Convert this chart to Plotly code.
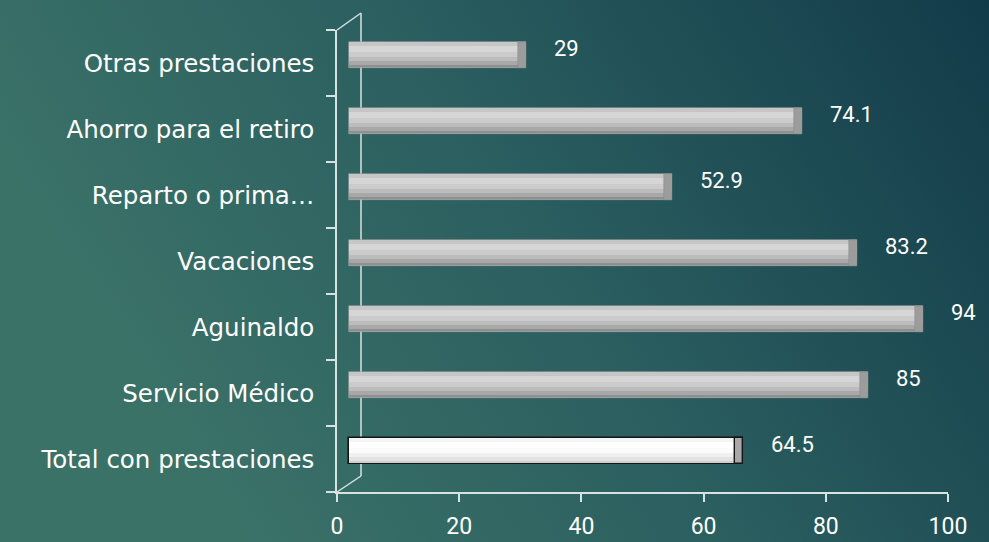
import base64
import plotly.graph_objects as go

# ---- data (top to bottom as in the chart) ----
categories = ["Otras prestaciones", "Ahorro para el retiro", "Reparto o prima…",
              "Vacaciones", "Aguinaldo", "Servicio Médico", "Total con prestaciones"]
values = [29, 74.1, 52.9, 83.2, 94, 85, 64.5]
value_labels = ["29", "74.1", "52.9", "83.2", "94", "85", "64.5"]
x_ticks = [0, 20, 40, 60, 80, 100]

# plotly category axes go bottom->top, so reverse
cats = categories[::-1]
vals = values[::-1]
labs = value_labels[::-1]
highlight = "Total con prestaciones"

W, H = 989, 542
ML, MR, MT, MB = 337, 41, 30, 50
PW, PH = W - ML - MR, H - MT - MB
DX, DY = 24, 16  # 3D depth offset in px

# background gradient
svg = f'''<svg xmlns="http://www.w3.org/2000/svg" width="{W}" height="{H}" preserveAspectRatio="none">
<defs><linearGradient id="g" x1="0" y1="0.35" x2="1" y2="0">
<stop offset="0" stop-color="#3b7268"/><stop offset="0.45" stop-color="#2b5f60"/>
<stop offset="1" stop-color="#123b49"/></linearGradient></defs>
<rect width="{W}" height="{H}" fill="url(#g)"/></svg>'''
bg = "data:image/svg+xml;base64," + base64.b64encode(svg.encode()).decode()

is_hl = [c == highlight for c in cats]

fig = go.Figure()
# invisible trace to establish category axis for labels
fig.add_trace(go.Scatter(x=vals, y=cats, mode="markers", marker=dict(opacity=0),
                         hoverinfo="skip", showlegend=False, xaxis="x", yaxis="y"))

BW = 0.40
common = dict(orientation="h", xaxis="x2", yaxis="y2", hoverinfo="skip", showlegend=False)

# outline/base body
fig.add_trace(go.Bar(x=vals, y=cats, width=BW, offset=-BW / 2,
                     marker=dict(color=["#f6f6f6" if h else "#b8b8b8" for h in is_hl],
                                 line=dict(color=["#151515" if h else "#9a9a9a" for h in is_hl],
                                           width=[1.6 if h else 0.6 for h in is_hl])),
                     **common))
# cylinder shading bands: (lower offset frac, upper offset frac, gray color, white color)
bands = [
    (0.36, 0.48, "#c6c6c6", "#f4f4f4"),
    (0.12, 0.36, "#d6d6d6", "#ffffff"),
    (-0.08, 0.12, "#cbcbcb", "#fbfbfb"),
    (-0.24, -0.08, "#bcbcbc", "#f0f0f0"),
    (-0.36, -0.24, "#a8a8a8", "#e2e2e2"),
    (-0.44, -0.36, "#8f8f8f", "#cfcfcf"),
]
for lo, hi, gc, wc in bands:
    fig.add_trace(go.Bar(x=vals, y=cats, width=(hi - lo) * BW, offset=lo * BW,
                         marker=dict(color=[wc if h else gc for h in is_hl], line=dict(width=0)),
                         **common))
# end cap
cap_len = [1.3] * len(vals)
fig.add_trace(go.Bar(x=cap_len, y=cats, base=[v - c for v, c in zip(vals, cap_len)],
                     width=BW * 0.96, offset=-BW * 0.48,
                     marker=dict(color=["#a9a9a9" if h else "#9c9c9c" for h in is_hl],
                                 line=dict(color=["#151515" if h else "#8a8a8a" for h in is_hl],
                                           width=[1.4 if h else 0.5 for h in is_hl])),
                     **common))

# value labels
for c, v, t in zip(cats, vals, labs):
    fig.add_annotation(x=v, y=c, xref="x2", yref="y2", text=t, showarrow=False,
                       xanchor="left", yanchor="middle", xshift=26, yshift=7,
                       font=dict(size=22, color="white", family="Roboto"))

axcol = "#d8e2e2"
# 3D wall lines (decoration in paper coords)
dxp, dyp = DX / PW, DY / PH
top_y = 1 + 17 / PH
for x0, y0, x1, y1 in [(0, 1, dxp, top_y), (dxp, top_y, dxp, dyp), (0, 0, dxp, dyp)]:
    fig.add_shape(type="line", xref="paper", yref="paper", x0=x0, y0=y0, x1=x1, y1=y1,
                  line=dict(color=axcol, width=1.5), layer="below")

xshift_units = (DX / 2) / (PW / 100)
yshift_units = (DY / 2) / (PH / 7)

fig.update_layout(
    width=W, height=H, margin=dict(l=ML, r=MR, t=MT, b=MB),
    paper_bgcolor="#2b5f60", plot_bgcolor="rgba(0,0,0,0)",
    barmode="overlay", bargap=0,
    font=dict(family="DejaVu Sans", color="white"),
    images=[dict(source=bg, xref="paper", yref="paper", x=-ML / PW, y=1 + MT / PH,
                 sizex=W / PW, sizey=H / PH, sizing="stretch", layer="below",
                 xanchor="left", yanchor="top")],
    xaxis=dict(range=[0, 100], tickvals=x_ticks, showgrid=False, zeroline=False,
               showline=True, linecolor=axcol, linewidth=1.5, automargin=False,
               ticks="outside", ticklen=8, tickcolor=axcol, tickwidth=1.5,
               tickfont=dict(size=23, color="white", family="Roboto"), ticklabelstandoff=5),
    yaxis=dict(type="category", categoryarray=cats, range=[-0.5, 6.5], automargin=False,
               showgrid=False, zeroline=False, showline=True, linecolor=axcol, linewidth=1.5,
               ticks="outside", ticklen=9, tickcolor=axcol, tickwidth=1.5, tickson="boundaries",
               tickfont=dict(size=24.5, color="white", family="DejaVu Sans"),
               ticklabelstandoff=16),
    xaxis2=dict(overlaying="x", range=[-xshift_units, 100 - xshift_units], visible=False,
                anchor="y2"),
    yaxis2=dict(overlaying="y", type="category", categoryarray=cats,
                range=[-0.5 - yshift_units, 6.5 - yshift_units], visible=False, anchor="x2"),
)

fig.write_html("out.html")
